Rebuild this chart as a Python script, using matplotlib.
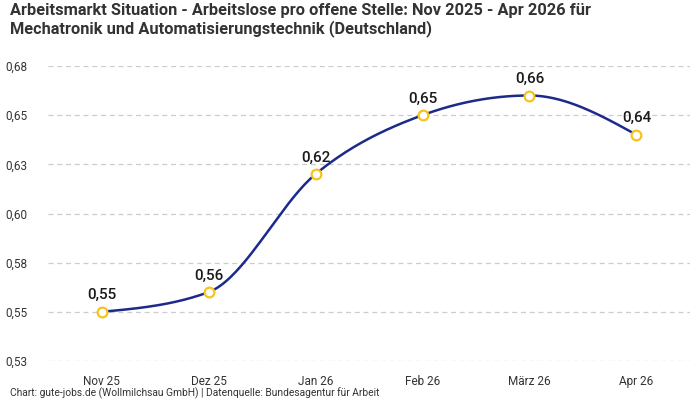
import numpy as np
import matplotlib
matplotlib.use("Agg")
import matplotlib.pyplot as plt
from decimal import Decimal, ROUND_HALF_UP

plt.rcParams['font.family'] = ['Roboto', 'DejaVu Sans']

# data
months = ["Nov 25", "Dez 25", "Jan 26", "Feb 26", "März 26", "Apr 26"]
ratio = [0.550, 0.560, 0.620, 0.650, 0.660, 0.640]
y_ticks = [0.525, 0.55, 0.575, 0.60, 0.625, 0.65, 0.675]

title = ("Arbeitsmarkt Situation - Arbeitslose pro offene Stelle: Nov 2025 - Apr 2026 für\n"
         "Mechatronik und Automatisierungstechnik (Deutschland)")
source = "Chart: gute-jobs.de (Wollmilchsau GmbH) | Datenquelle: Bundesagentur für Arbeit"

line_color = "#1c2a8c"
marker_color = "#f6c31c"


def fmt(v):
    # german decimal comma, half-up rounding
    d = Decimal(str(v)).quantize(Decimal("0.01"), rounding=ROUND_HALF_UP)
    return str(d).replace(".", ",")


def monotone_curve(x, y, n=40):
    # monotone cubic like d3.curveMonotoneX
    x = np.asarray(x, float)
    y = np.asarray(y, float)
    h = np.diff(x)
    s = np.diff(y) / h
    t = np.zeros(len(x))
    for i in range(1, len(x) - 1):
        p = (s[i - 1] * h[i] + s[i] * h[i - 1]) / (h[i - 1] + h[i])
        t[i] = (np.sign(s[i - 1]) + np.sign(s[i])) * min(abs(s[i - 1]), abs(s[i]), 0.5 * abs(p))
    t[0] = (3 * s[0] - t[1]) / 2
    t[-1] = (3 * s[-1] - t[-2]) / 2
    xs, ys = [], []
    u = np.linspace(0, 1, n)
    for i in range(len(x) - 1):
        dx = h[i] / 3
        p0 = (x[i], y[i])
        p1 = (x[i] + dx, y[i] + dx * t[i])
        p2 = (x[i + 1] - dx, y[i + 1] - dx * t[i + 1])
        p3 = (x[i + 1], y[i + 1])
        b = [(1 - u) ** 3, 3 * (1 - u) ** 2 * u, 3 * (1 - u) * u ** 2, u ** 3]
        xs.extend(b[0] * p0[0] + b[1] * p1[0] + b[2] * p2[0] + b[3] * p3[0])
        ys.extend(b[0] * p0[1] + b[1] * p1[1] + b[2] * p2[1] + b[3] * p3[1])
    return np.array(xs), np.array(ys)


fig = plt.figure(figsize=(7, 4), dpi=100)
ax = fig.add_axes([0.0686, 0.0975, 0.9171, 0.7375])

xpos = np.arange(len(months))
cx, cy = monotone_curve(xpos, ratio)
ax.plot(cx, cy, color=line_color, lw=1.8, zorder=3)
ax.plot(xpos, ratio, 'o', ms=7, mfc='white', mec=marker_color, mew=1.6, zorder=4)

for x, v in zip(xpos, ratio):
    ax.annotate(fmt(v), (x, v), xytext=(0, 7), textcoords="offset points",
                ha="center", va="bottom", fontsize=11, fontweight="medium", color="#1a1a1a")

ax.set_xlim(-0.5, len(months) - 0.5)
ax.set_ylim(0.525, 0.675)
ax.set_xticks(xpos)
ax.set_xticklabels(months)
ax.set_yticks(y_ticks)
ax.set_yticklabels([fmt(v) for v in y_ticks])
ax.tick_params(axis="both", length=0, labelsize=8.5, labelcolor="#333333")
ax.tick_params(axis="y", pad=15)
ax.tick_params(axis="x", pad=10)
ax.grid(axis="y", color="#cccccc", ls=(0, (4, 3)), lw=0.9)
ax.set_axisbelow(True)
for sp in ax.spines.values():
    sp.set_visible(False)

fig.text(0.014, 0.993, title, ha="left", va="top", fontsize=11.8, fontweight="bold",
         color="#333333", linespacing=1.2)
fig.text(0.014, 0.018, source, ha="left", va="center", fontsize=7.4, color="#333333")

fig.savefig("out.png", dpi=100)
